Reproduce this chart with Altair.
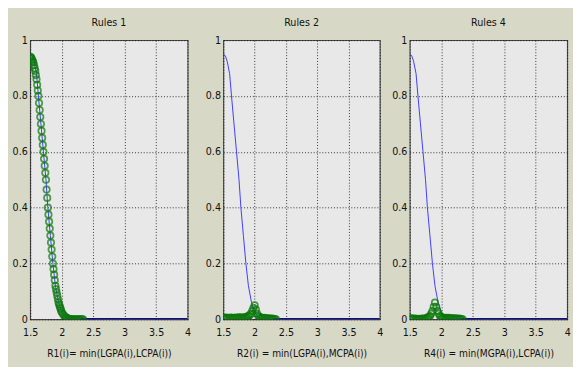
import altair as alt
import pandas as pd

# Shared blue curve (membership function)
blue_x = [1.50, 1.53, 1.56, 1.60, 1.63, 1.67, 1.71, 1.75, 1.78, 1.82, 1.86, 1.90, 1.95, 2.00, 2.05, 2.10, 2.20, 2.30, 2.40, 3.00, 4.00]
blue_y = [0.95, 0.945, 0.925, 0.88, 0.80, 0.70, 0.60, 0.50, 0.40, 0.30, 0.20, 0.12, 0.06, 0.025, 0.01, 0.003, 0.0, 0.0, 0.0, 0.0, 0.0]

# Rules 1 green samples (follow the curve)
green1_x = [1.50, 1.51, 1.52, 1.53, 1.54, 1.55, 1.56, 1.57, 1.58, 1.59, 1.60, 1.61, 1.62, 1.63, 1.64,
            1.65, 1.66, 1.67, 1.68, 1.69, 1.70, 1.71, 1.72, 1.73, 1.74, 1.75, 1.76, 1.77, 1.78, 1.79,
            1.80, 1.81, 1.82, 1.83, 1.84, 1.85, 1.86, 1.87, 1.88, 1.89, 1.90, 1.91, 1.92, 1.93, 1.94,
            1.95, 1.96, 1.97, 1.98, 1.99, 2.00, 2.02, 2.04, 2.06, 2.08, 2.10, 2.12, 2.14, 2.16, 2.18,
            2.20, 2.22, 2.24, 2.26, 2.28, 2.30, 2.32, 2.34]
green1_y = [0.94, 0.94, 0.935, 0.93, 0.925, 0.92, 0.91, 0.90, 0.89, 0.875, 0.86, 0.84, 0.82, 0.80, 0.775,
            0.75, 0.725, 0.70, 0.675, 0.65, 0.625, 0.60, 0.575, 0.55, 0.525, 0.50, 0.465, 0.435, 0.40, 0.375,
            0.35, 0.325, 0.30, 0.275, 0.25, 0.225, 0.20, 0.18, 0.16, 0.14, 0.12, 0.108, 0.096, 0.084, 0.072,
            0.06, 0.053, 0.046, 0.039, 0.032, 0.025, 0.019, 0.013, 0.008, 0.005, 0.003, 0.002, 0.001, 0.0, 0.0,
            0.0, 0.0, 0.0, 0.0, 0.0, 0.0, 0.0, 0.0]

# Rules 2 / Rules 4 green samples (near zero with a small bump)
green_x = [1.50, 1.52, 1.54, 1.56, 1.58, 1.60, 1.62, 1.64, 1.66, 1.68, 1.70, 1.72, 1.74, 1.76,
           1.78, 1.80, 1.82, 1.84, 1.86, 1.88, 1.90, 1.92, 1.94, 1.96, 1.98, 2.00, 2.02, 2.04,
           2.06, 2.08, 2.10, 2.12, 2.14, 2.16, 2.18, 2.20, 2.22, 2.24, 2.26, 2.28, 2.30, 2.32, 2.34]
green2_y = [0.004, 0.005, 0.006, 0.005, 0.004, 0.005, 0.006, 0.005, 0.004, 0.005, 0.006, 0.005, 0.006, 0.007,
            0.006, 0.005, 0.006, 0.007, 0.008, 0.010, 0.012, 0.015, 0.02, 0.03, 0.04, 0.05, 0.035, 0.02,
            0.012, 0.008, 0.006, 0.005, 0.004, 0.005, 0.004, 0.003, 0.004, 0.003, 0.002, 0.003, 0.002, 0.001, 0.0]
green3_y = [0.003, 0.004, 0.003, 0.002, 0.003, 0.002, 0.001, 0.002, 0.001, 0.002, 0.003, 0.002, 0.003, 0.004,
            0.006, 0.008, 0.012, 0.02, 0.03, 0.045, 0.06, 0.045, 0.03, 0.02, 0.012, 0.008, 0.006, 0.005,
            0.004, 0.005, 0.004, 0.005, 0.004, 0.003, 0.004, 0.003, 0.004, 0.003, 0.002, 0.003, 0.002, 0.001, 0.0]

titles = ["Rules 1", "Rules 2", "Rules 4"]
xlabels = ["R1(i)= min(LGPA(i),LCPA(i))", "R2(i) = min(LGPA(i),MCPA(i))", "R4(i) = min(MGPA(i),LCPA(i))"]
green_sets = [(green1_x, green1_y), (green_x, green2_y), (green_x, green3_y)]

x_domain = [1.5, 4.0]
x_tick_count = 6          # gives 1.5, 2, 2.5, 3, 3.5, 4
y_ticks = [0.0, 0.2, 0.4, 0.6, 0.8, 1.0]

FONT = "DejaVu Sans Condensed, Liberation Sans, Arial, sans-serif"

blue_df = pd.DataFrame({"x": blue_x, "y": blue_y})


def panel(i, w):
    xs = alt.Scale(domain=x_domain, nice=False, zero=False)
    ys = alt.Scale(domain=[0, 1], nice=False)
    xax = alt.Axis(tickCount=x_tick_count, title=xlabels[i], grid=True, ticks=False, domain=False,
                   format="~g", labelFlush=False, labelOverlap=False, labelBound=False,
                   labelPadding=8, titlePadding=12)
    yax = alt.Axis(values=y_ticks, title=None, grid=True, ticks=False, domain=False,
                   format="~g", labelFlush=False, labelOverlap=False, labelPadding=3)
    base = alt.Chart(blue_df)
    line = base.mark_line(color="#3a3aff", strokeWidth=1, clip=True).encode(
        x=alt.X("x:Q", scale=xs, axis=xax),
        y=alt.Y("y:Q", scale=ys, axis=yax),
    )
    tail = base.transform_filter("datum.x >= 2.3").mark_line(
        color="#10107a", strokeWidth=3, clip=True).encode(x="x:Q", y="y:Q")
    gx, gy = green_sets[i]
    gdf = pd.DataFrame({"x": gx, "y": gy})
    pts = alt.Chart(gdf).mark_point(shape="circle", filled=False, color="#0b780b",
                                    size=44, strokeWidth=1.8, clip=True).encode(x="x:Q", y="y:Q")
    return alt.layer(line, tail, pts).properties(
        width=w, height=289,
        title=alt.TitleParams(titles[i], fontSize=11, font=FONT, fontWeight="normal",
                              color="#111", offset=7),
    )


left = alt.hconcat(panel(0, 163), panel(1, 162), spacing=13)
chart = alt.hconcat(left, panel(2, 163), spacing=7).properties(
    background="#d8d8c6",
    padding={"left": 3, "top": 2, "right": 2, "bottom": 0},
).configure_view(
    fill="#e8e8e8", stroke="#4a4a4a", strokeWidth=1.2,
).configure_axis(
    gridColor="#111111", gridDash=[1, 2], gridOpacity=0.85, gridWidth=1,
    labelFont=FONT, labelFontSize=11, labelColor="#111",
    labelOverlap=False, labelFlush=False,
    titleFont=FONT, titleFontSize=10.5, titleFontWeight="normal", titleColor="#111",
)

chart.save("out.html", embed_options={"renderer": "svg", "actions": False})
